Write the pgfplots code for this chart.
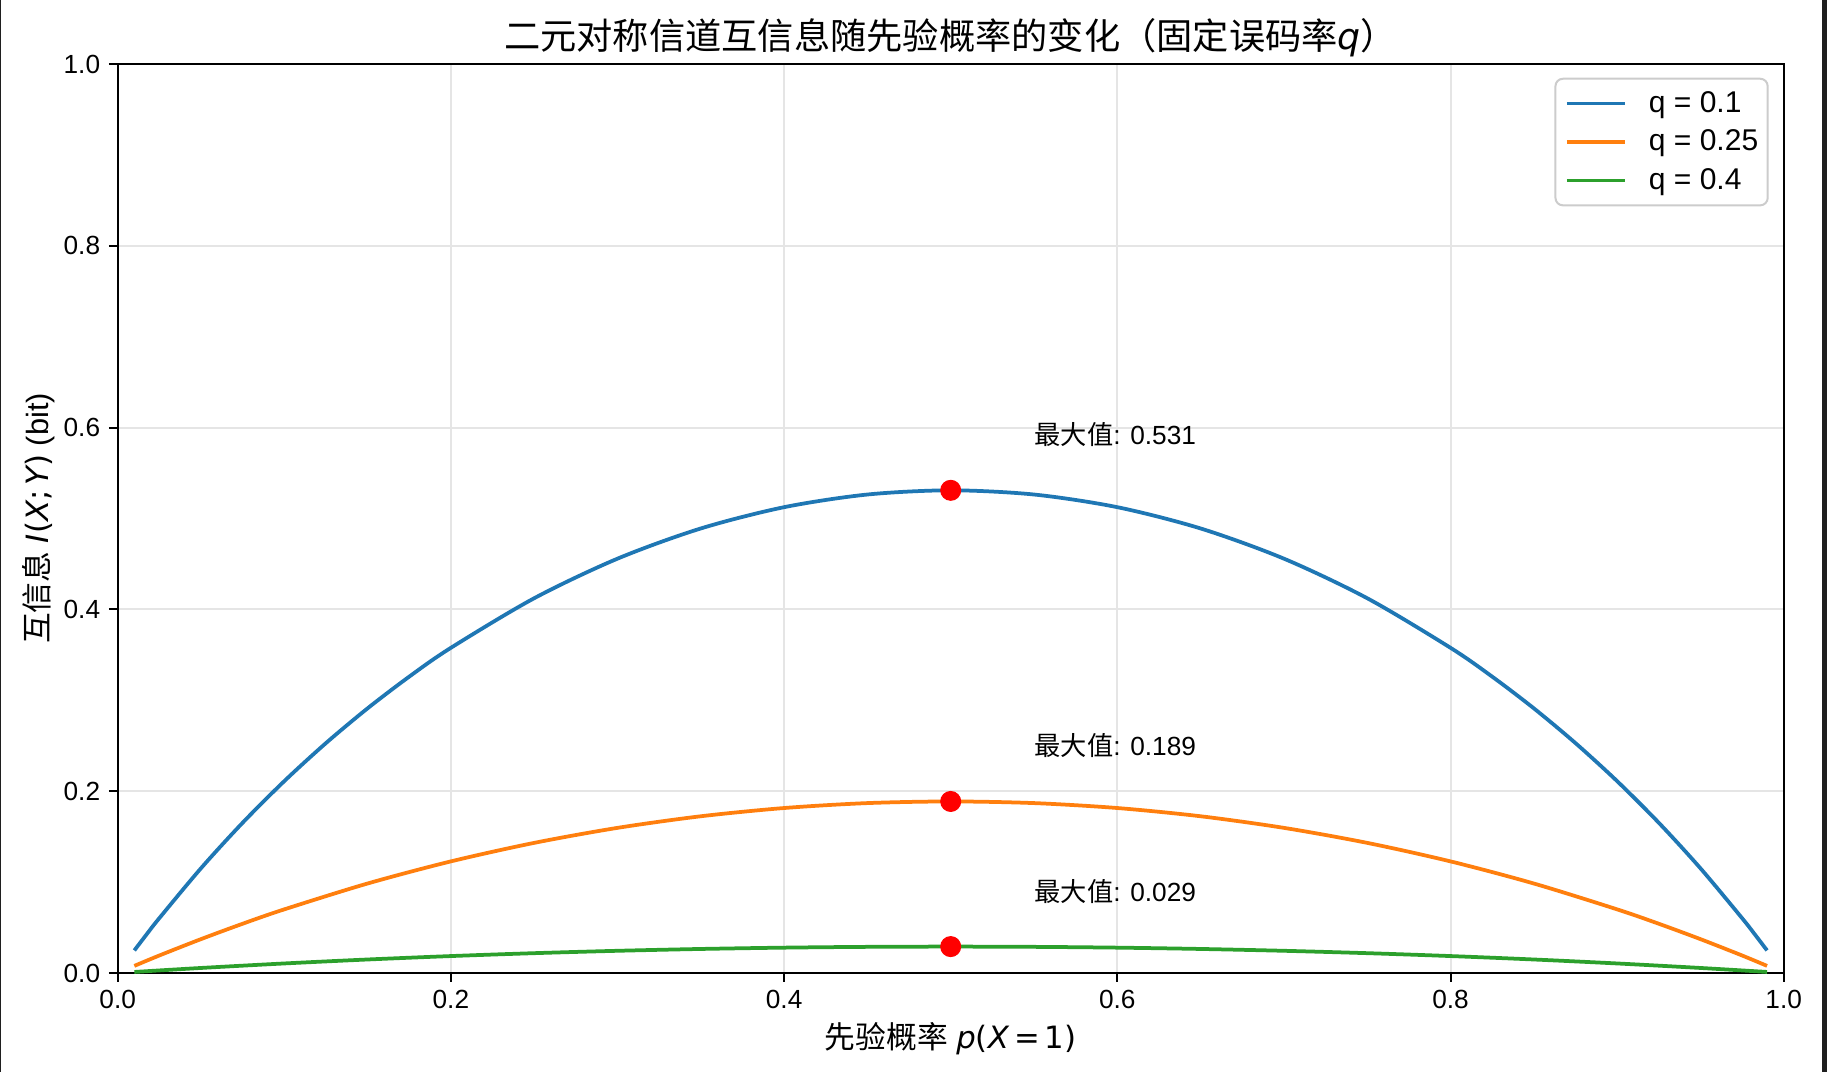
\documentclass[border=0pt]{standalone}
\usepackage{fontspec}
\setmainfont{Liberation Sans}
\newfontfamily\cjk{Noto Sans CJK SC}
\newfontfamily\dvs{DejaVu Sans}
\usepackage{pgfplots}
\pgfplotsset{compat=1.18}
\definecolor{tabblue}{HTML}{1F77B4}
\definecolor{taborange}{HTML}{FF7F0E}
\definecolor{tabgreen}{HTML}{2CA02C}

\pgfplotstableread{
p I
0.01 0.024859
0.0175 0.042869
0.025 0.060365
0.05 0.115242
0.075 0.165314
0.1 0.211081
0.125 0.252932
0.15 0.291172
0.175 0.326044
0.2 0.357750
0.25 0.412295
0.3 0.455823
0.35 0.489046
0.4 0.512458
0.45 0.526382
0.5 0.531004
0.55 0.526382
0.6 0.512458
0.65 0.489046
0.7 0.455823
0.75 0.412295
0.8 0.357750
0.825 0.326044
0.85 0.291172
0.875 0.252932
0.9 0.211081
0.925 0.165314
0.95 0.115242
0.975 0.060365
0.9825 0.042869
0.99 0.024859
}\qa

\pgfplotstableread{
p I
0.01 0.007831
0.025 0.019278
0.05 0.037270
0.075 0.054192
0.1 0.070013
0.15 0.098459
0.2 0.122790
0.25 0.143156
0.3 0.159673
0.35 0.172430
0.4 0.181496
0.45 0.186918
0.5 0.188722
0.55 0.186918
0.6 0.181496
0.65 0.172430
0.7 0.159673
0.75 0.143156
0.8 0.122790
0.85 0.098459
0.9 0.070013
0.925 0.054192
0.95 0.037270
0.975 0.019278
0.99 0.007831
}\qb

\pgfplotstableread{
p I
0.01 0.001157
0.05 0.005550
0.1 0.010503
0.15 0.014864
0.2 0.018637
0.25 0.021823
0.3 0.024427
0.35 0.026451
0.4 0.027894
0.45 0.028761
0.5 0.029049
0.55 0.028761
0.6 0.027894
0.65 0.026451
0.7 0.024427
0.75 0.021823
0.8 0.018637
0.85 0.014864
0.9 0.010503
0.95 0.005550
0.99 0.001157
}\qc

\begin{document}
\begin{tikzpicture}
\useasboundingbox (-47.08pt,-39.6pt) rectangle (683.72pt,389.2pt);
\fill[white] (-47.08pt,-39.6pt) rectangle (683.72pt,389.2pt);
\fill[black!88] (-47.08pt,-39.6pt) rectangle (-46.5pt,389.2pt);
\fill[black!88] (681.7pt,-39.6pt) rectangle (683.72pt,389.2pt);
\begin{axis}[
  at={(0,0)}, anchor=south west,
  scale only axis, width=666.4pt, height=363.6pt,
  xmin=0, xmax=1, ymin=0, ymax=1,
  xtick={0,0.2,0.4,0.6,0.8,1}, ytick={0,0.2,0.4,0.6,0.8,1},
  tick pos=left, tick align=outside,
  major tick length=3.5pt,
  tick style={line width=0.8pt, black},
  axis line style={line width=0.8pt, black},
  grid=major, grid style={line width=0.8pt, color=black!10},
  /pgf/number format/assume math mode=true,
  xticklabel style={/pgf/number format/.cd, fixed, fixed zerofill, precision=1},
  yticklabel style={/pgf/number format/.cd, fixed, fixed zerofill, precision=1},
  tick label style={font=\fontsize{10.5}{12}\selectfont},
  title={{\cjk 二元对称信道互信息随先验概率的变化（固定误码率}{\dvs\itshape q}{\cjk ）}},
  title style={at={(axis description cs:0.5,1)}, anchor=center, yshift=4.4pt, font=\fontsize{14.5}{17}\selectfont},
  xlabel={{\cjk 先验概率} {\dvs\itshape p}{\dvs (}{\dvs\itshape X}{\dvs\,=\,1)}},
  xlabel style={at={(axis description cs:0.5,-0.0726)}, anchor=center, font=\fontsize{12.3}{14}\selectfont},
  ylabel={{\cjk 互信息} {\dvs\itshape I}{\dvs (}{\dvs\itshape X}{\dvs ;\,}{\dvs\itshape Y}{\dvs )} (bit)},
  ylabel style={at={(axis description cs:-0.0475,0.5)}, anchor=center, rotate=0, font=\fontsize{12.3}{14}\selectfont},
  legend cell align=left,
  legend image code/.code={\draw[#1] (0pt,0pt) -- (23.2pt,0pt);},
  legend style={at={(axis description cs:1,1)}, anchor=north east, xshift=-6pt, yshift=-5.5pt,
    draw=black!20, line width=0.8pt, rounded corners=3pt, fill=white,
    font=\fontsize{12}{14}\selectfont, inner xsep=3.8pt, inner ysep=2.4pt,
    row sep=0.3pt, nodes={inner xsep=0pt, inner ysep=2.6pt},
    /tikz/every odd column/.style={column sep=8.9pt}},
]
\addplot[tabblue, line width=1.5pt, smooth] table[x=p, y=I] {\qa};
\addlegendentry{q = 0.1}
\addplot[taborange, line width=1.5pt, smooth] table[x=p, y=I] {\qb};
\addlegendentry{q = 0.25}
\addplot[tabgreen, line width=1.5pt, smooth] table[x=p, y=I] {\qc};
\addlegendentry{q = 0.4}
\addplot[only marks, mark=*, mark size=4pt, color=red, forget plot] coordinates {(0.5,0.531004) (0.5,0.188722) (0.5,0.029049)};
\node[anchor=base west, inner sep=0pt, font=\fontsize{10.5}{12}\selectfont] at (axis cs:0.55,0.581) {{\cjk 最大值}: 0.531};
\node[anchor=base west, inner sep=0pt, font=\fontsize{10.5}{12}\selectfont] at (axis cs:0.55,0.239) {{\cjk 最大值}: 0.189};
\node[anchor=base west, inner sep=0pt, font=\fontsize{10.5}{12}\selectfont] at (axis cs:0.55,0.079) {{\cjk 最大值}: 0.029};
\end{axis}
\end{tikzpicture}
\end{document}
